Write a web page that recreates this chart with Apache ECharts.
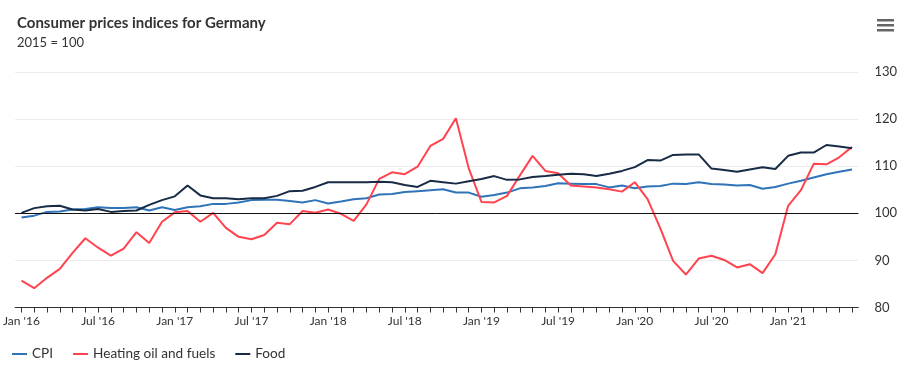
<!DOCTYPE html>
<html>
<head>
<meta charset="utf-8">
<script src="https://cdn.jsdelivr.net/npm/echarts@6/dist/echarts.min.js"></script>
<style>
  html, body { margin: 0; padding: 0; background: #fff; }
  #chart { width: 908px; height: 368px; }
</style>
</head>
<body>
<div id="chart"></div>
<script>
const categories = [
  "Jan '16","Feb '16","Mar '16","Apr '16","May '16","Jun '16","Jul '16","Aug '16","Sep '16","Oct '16","Nov '16","Dec '16",
  "Jan '17","Feb '17","Mar '17","Apr '17","May '17","Jun '17","Jul '17","Aug '17","Sep '17","Oct '17","Nov '17","Dec '17",
  "Jan '18","Feb '18","Mar '18","Apr '18","May '18","Jun '18","Jul '18","Aug '18","Sep '18","Oct '18","Nov '18","Dec '18",
  "Jan '19","Feb '19","Mar '19","Apr '19","May '19","Jun '19","Jul '19","Aug '19","Sep '19","Oct '19","Nov '19","Dec '19",
  "Jan '20","Feb '20","Mar '20","Apr '20","May '20","Jun '20","Jul '20","Aug '20","Sep '20","Oct '20","Nov '20","Dec '20",
  "Jan '21","Feb '21","Mar '21","Apr '21","May '21","Jun '21"
];

const cpi = [
  99.1, 99.5, 100.3, 100.4, 100.8, 100.9, 101.3, 101.1, 101.1, 101.3, 100.6, 101.3,
  100.7, 101.3, 101.5, 102.0, 102.0, 102.3, 102.8, 102.9, 102.9, 102.6, 102.3, 102.8,
  102.1, 102.5, 103.0, 103.2, 104.0, 104.1, 104.5, 104.7, 104.9, 105.1, 104.4, 104.4,
  103.5, 103.9, 104.4, 105.3, 105.5, 105.8, 106.4, 106.3, 106.2, 106.2, 105.5, 105.9,
  105.3, 105.7, 105.8, 106.3, 106.2, 106.6, 106.2, 106.1, 105.9, 106.0, 105.2, 105.6,
  106.3, 106.9, 107.6, 108.3, 108.8, 109.3
];

const heating = [
  85.7, 84.1, 86.3, 88.2, 91.6, 94.7, 92.7, 91.0, 92.5, 96.0, 93.7, 98.2,
  100.2, 100.5, 98.2, 100.1, 96.9, 95.0, 94.5, 95.4, 98.0, 97.7, 100.5, 100.1,
  100.8, 99.9, 98.4, 101.9, 107.3, 108.7, 108.3, 109.9, 114.3, 115.8, 120.2, 109.6,
  102.4, 102.3, 103.7, 108.0, 112.2, 109.0, 108.5, 105.9, 105.7, 105.5, 105.1, 104.6,
  106.6, 103.0, 96.8, 89.9, 87.0, 90.4, 91.0, 90.1, 88.5, 89.2, 87.3, 91.3,
  101.6, 104.9, 110.5, 110.4, 111.9, 114.1
];

const food = [
  100.1, 101.1, 101.5, 101.6, 100.8, 100.6, 100.9, 100.3, 100.5, 100.6, 101.8, 102.8,
  103.6, 105.9, 103.8, 103.2, 103.2, 103.0, 103.2, 103.2, 103.7, 104.7, 104.8, 105.6,
  106.6, 106.6, 106.6, 106.6, 106.7, 106.6, 106.0, 105.6, 106.9, 106.6, 106.3, 106.8,
  107.3, 107.9, 107.1, 107.2, 107.7, 107.9, 108.2, 108.4, 108.3, 107.9, 108.4, 109.0,
  109.8, 111.3, 111.2, 112.4, 112.5, 112.5, 109.5, 109.2, 108.8, 109.3, 109.8, 109.4,
  112.2, 112.9, 112.9, 114.5, 114.2, 113.8
];

const yTicks = [80, 90, 100, 110, 120, 130];

const FONT = 'Lato, "Open Sans", "DejaVu Sans", sans-serif';
const chart = echarts.init(document.getElementById('chart'), null, { renderer: 'canvas' });

chart.setOption({
  animation: false,
  backgroundColor: '#ffffff',
  textStyle: { fontFamily: FONT },
  title: {
    text: 'Consumer prices indices for Germany',
    subtext: '2015 = 100',
    left: 12,
    top: 11,
    itemGap: 5,
    textStyle: { fontFamily: FONT, fontSize: 15, fontWeight: 'bold', color: '#333333' },
    subtextStyle: { fontFamily: FONT, fontSize: 13, color: '#333333' }
  },
  graphic: [
    { type: 'rect', shape: { x: 877, y: 19, width: 17, height: 2.5 }, style: { fill: '#666666' } },
    { type: 'rect', shape: { x: 877, y: 24, width: 17, height: 2.5 }, style: { fill: '#666666' } },
    { type: 'rect', shape: { x: 877, y: 29, width: 17, height: 2.5 }, style: { fill: '#666666' } }
  ],
  legend: {
    left: 7,
    top: 342,
    icon: 'rect',
    itemWidth: 15,
    itemHeight: 2,
    itemGap: 20,
    textStyle: { fontFamily: FONT, fontSize: 13.6, color: '#333333' },
    data: ['CPI', 'Heating oil and fuels', 'Food']
  },
  grid: { left: 13.6, right: 49.6, top: 72, bottom: 60.5, containLabel: false },
  xAxis: {
    type: 'category',
    data: categories,
    boundaryGap: true,
    axisLine: { show: true, lineStyle: { color: '#333333', width: 1 } },
    axisTick: { show: true, alignWithLabel: true, interval: 0, length: 5, lineStyle: { color: '#333333', width: 1 } },
    axisLabel: { interval: 5, margin: 8, fontSize: 12, color: '#333333', fontFamily: FONT },
    splitLine: { show: false }
  },
  yAxis: {
    type: 'value',
    position: 'right',
    min: yTicks[0],
    max: yTicks[yTicks.length - 1],
    interval: 10,
    axisLine: { show: false },
    axisTick: { show: false },
    axisLabel: { margin: 16, fontSize: 13, color: '#333333', fontFamily: FONT },
    splitLine: { show: true, lineStyle: { color: '#ececec', width: 1 } }
  },
  series: [
    {
      name: 'CPI', type: 'line', data: cpi, symbol: 'none', smooth: false,
      lineStyle: { width: 2, color: '#2f73b8' }, itemStyle: { color: '#2f73b8' },
      markLine: {
        silent: true, symbol: 'none', label: { show: false },
        lineStyle: { color: '#111111', width: 1, type: 'solid' },
        data: [{ yAxis: 100 }]
      },
      z: 2
    },
    {
      name: 'Heating oil and fuels', type: 'line', data: heating, symbol: 'none', smooth: false,
      lineStyle: { width: 2, color: '#ff444f' }, itemStyle: { color: '#ff444f' }, z: 3
    },
    {
      name: 'Food', type: 'line', data: food, symbol: 'none', smooth: false,
      lineStyle: { width: 2, color: '#172b46' }, itemStyle: { color: '#172b46' }, z: 4
    }
  ]
});
</script>
</body>
</html>
